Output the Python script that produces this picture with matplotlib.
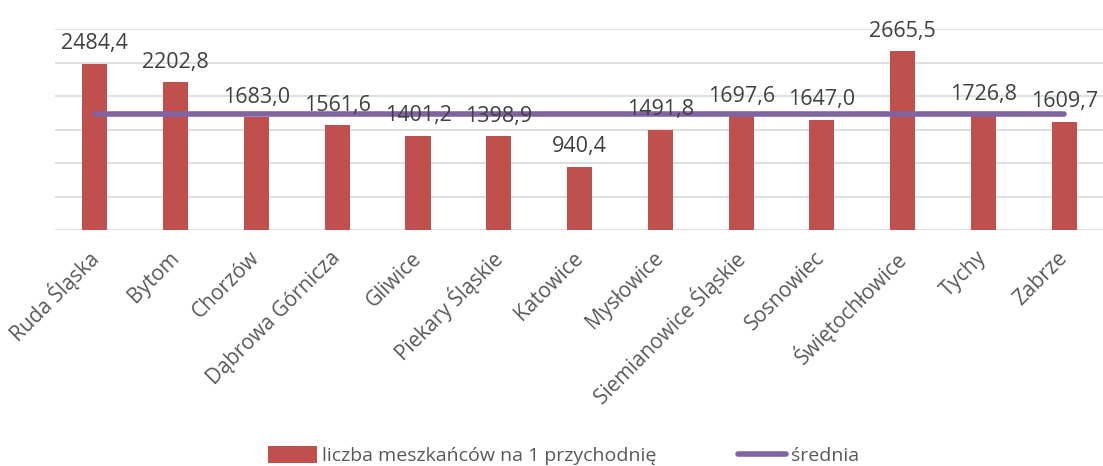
import numpy as np
import matplotlib.pyplot as plt

# dane: liczba mieszkańców na 1 przychodnię w miastach
miasta = ['Ruda Śląska', 'Bytom', 'Chorzów', 'Dąbrowa Górnicza', 'Gliwice',
          'Piekary Śląskie', 'Katowice', 'Mysłowice', 'Siemianowice Śląskie',
          'Sosnowiec', 'Świętochłowice', 'Tychy', 'Zabrze']
wartosci = [2484.4, 2202.8, 1683.0, 1561.6, 1401.2, 1398.9, 940.4,
            1491.8, 1697.6, 1647.0, 2665.5, 1726.8, 1609.7]
srednia = [1731.6] * 13
y_ticks = [0, 500, 1000, 1500, 2000, 2500, 3000]

plt.rcParams['font.family'] = ['Open Sans', 'DejaVu Sans']

fig = plt.figure(figsize=(11.03, 4.66), dpi=100)
ax = fig.add_axes([54.5 / 1103, 236 / 466, (1103 - 54.5) / 1103, 201 / 466])

x = np.arange(len(miasta))
bar_color = '#C0504D'
line_color = '#8064A2'

bars = ax.bar(x, wartosci, width=0.31, color=bar_color, zorder=2,
              label='liczba meszkańców na 1 przychodnię')
line, = ax.plot(x, srednia, color=line_color, lw=4, solid_capstyle='round',
                zorder=3, label='średnia')

for xi, v in zip(x, wartosci):
    ax.annotate(f'{v:.1f}'.replace('.', ','), (xi, v), xytext=(0, 7),
                textcoords='offset points', ha='center', va='bottom',
                fontsize=15.5, color='#404040', zorder=4)

ax.set_xlim(-0.5, 12.48)
ax.set_ylim(0, 3000)
ax.set_yticks(y_ticks)
ax.set_yticklabels([])
ax.tick_params(axis='y', length=0)
ax.tick_params(axis='x', length=0, pad=18)
ax.set_xticks(x)
ax.set_xticklabels(miasta, rotation=45, ha='right', va='center',
                   rotation_mode='anchor', fontsize=15, color='#595959')
ax.grid(axis='y', color='#D9D9D9', lw=1.2, zorder=0)
ax.set_axisbelow(True)
for s in ax.spines.values():
    s.set_visible(False)

fig.legend([bars, line], [bars.get_label(), line.get_label()],
           loc='center', bbox_to_anchor=(0.511, 0.022), ncol=2, frameon=False,
           fontsize=14, handlelength=2.5, handleheight=0.95, handletextpad=0.25,
           columnspacing=4.2, labelcolor='#595959')

fig.savefig('out.png', dpi=100)
